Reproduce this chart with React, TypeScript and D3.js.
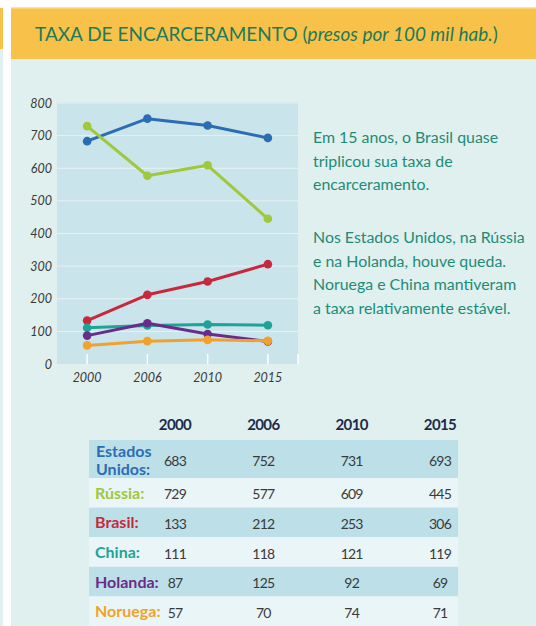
import React from "react";
import * as d3 from "d3";

const years = ["2000", "2006", "2010", "2015"];
const countries = ["Estados Unidos", "Rússia", "Brasil", "China", "Holanda", "Noruega"];
const tableLabels = [["Estados", "Unidos:"], ["Rússia:"], ["Brasil:"], ["China:"], ["Holanda:"], ["Noruega:"]];
const colors = ["#2b6db4", "#9fc83c", "#c8283b", "#1fa396", "#6a2c8b", "#f1a22c"];
const estadosUnidos = [683, 752, 731, 693];
const russia = [729, 577, 609, 445];
const brasil = [133, 212, 253, 306];
const china = [111, 118, 121, 119];
const holanda = [87, 125, 92, 69];
const noruega = [57, 70, 74, 71];
const seriesValues = [estadosUnidos, russia, brasil, china, holanda, noruega];
const yTicks = [0, 100, 200, 300, 400, 500, 600, 700, 800];
const titleMain = "TAXA DE ENCARCERAMENTO ";
const titleSub = "presos por 100 mil hab.";
const noteParagraph1 = ["Em 15 anos, o Brasil quase", "triplicou sua taxa de", "encarceramento."];
const noteParagraph2 = [
  "Nos Estados Unidos, na Rússia",
  "e na Holanda, houve queda.",
  "Noruega e China mantiveram",
  "a taxa relativamente estável.",
];

const W = 536;
const H = 626;
const font = "Lato, 'Open Sans', sans-serif";

export default function App() {
  const plot = { left: 57, right: 298, top: 102, bottom: 364 };
  const x = d3.scalePoint<string>().domain(years).range([plot.left, plot.right]).padding(0.5);
  const y = d3.scaleLinear().domain([0, 800]).range([plot.bottom, plot.top + 1]);
  const line = d3
    .line<number>()
    .x((_, i) => x(years[i]) as number)
    .y((v) => y(v));

  const colX = d3.scalePoint<string>().domain(years).range([175, 440]);
  const rowHeights = [38, 29.6, 29.6, 29.6, 29.6, 29.6];
  const rowTops: number[] = [];
  let acc = 440;
  rowHeights.forEach((h) => {
    rowTops.push(acc);
    acc += h;
  });
  const lineGap = 23.7;

  return (
    <svg
      width={W}
      height={H}
      style={{ position: "absolute", left: 0, top: 0, display: "block" }}
      fontFamily={font}
    >
      <rect x={0} y={0} width={W} height={H} fill="#ffffff" />
      {/* left edge strip */}
      <rect x={0} y={8} width={3} height={41} fill="#f8c24a" />
      <rect x={0} y={49} width={3} height={H - 49} fill="#e2f1f0" />
      {/* panel */}
      <rect x={11} y={58} width={W - 11} height={H - 58} fill="#dff0ef" />
      <rect x={11} y={8} width={W - 11} height={51} fill="#f8c24a" />
      <rect x={11} y={7} width={W - 11} height={1.5} fill="#fbe3a6" />
      <text x={35} y={41} fontSize={19} fill="#1f7a58">
        {titleMain}
        <tspan>(</tspan>
        <tspan fontStyle="italic">{titleSub}</tspan>
        <tspan>)</tspan>
      </text>

      {/* plot area */}
      <rect x={plot.left} y={plot.top} width={plot.right - plot.left} height={plot.bottom - plot.top} fill="#c9e4ea" />
      {yTicks.slice(1).map((t) => (
        <line key={t} x1={plot.left} x2={plot.right} y1={y(t)} y2={y(t)} stroke="#ffffff" strokeOpacity={0.55} strokeWidth={1} />
      ))}
      {years.map((yr) => (
        <line key={yr} x1={x(yr)} x2={x(yr)} y1={plot.bottom - 10} y2={plot.bottom} stroke="#ffffff" strokeWidth={1.5} />
      ))}
      <line x1={plot.right} x2={plot.right} y1={plot.bottom - 10} y2={plot.bottom} stroke="#ffffff" strokeWidth={1.5} />
      {yTicks.map((t) => (
        <text key={t} x={52} y={y(t) + 4.5} fontSize={12.5} fontStyle="italic" fill="#3a3a3a" textAnchor="end">
          {t}
        </text>
      ))}
      {years.map((yr) => (
        <text key={yr} x={x(yr)} y={382} fontSize={12.5} fontStyle="italic" fill="#3a3a3a" textAnchor="middle">
          {yr}
        </text>
      ))}
      {seriesValues.map((vals, si) => (
        <g key={countries[si]}>
          <path d={line(vals) || ""} fill="none" stroke={colors[si]} strokeWidth={3} strokeLinejoin="round" />
          {vals.map((v, i) => (
            <circle key={i} cx={x(years[i])} cy={y(v)} r={4.3} fill={colors[si]} />
          ))}
        </g>
      ))}

      {/* annotation */}
      {noteParagraph1.map((l, i) => (
        <text key={"a" + i} x={313} y={143 + i * lineGap} fontSize={15.9} fill="#1e8b77">
          {l}
        </text>
      ))}
      {noteParagraph2.map((l, i) => (
        <text key={"b" + i} x={313} y={243 + i * lineGap} fontSize={15.9} fill="#1e8b77">
          {l}
        </text>
      ))}

      {/* table */}
      {rowTops.map((t, i) => (
        <rect key={i} x={89} y={t} width={369} height={rowHeights[i]} fill={i % 2 === 0 ? "#bde0e8" : "#eaf5f8"} />
      ))}
      {years.map((yr) => (
        <text key={yr} x={colX(yr)} y={430} fontSize={15} fontWeight={700} fill="#1c2b4a" textAnchor="middle" letterSpacing={-0.6}>
          {yr}
        </text>
      ))}
      {countries.map((c, ri) => {
        const top = rowTops[ri];
        const mid = top + rowHeights[ri] / 2;
        const lbl = tableLabels[ri];
        return (
          <g key={c}>
            {lbl.length === 2 ? (
              <>
                <text x={96} y={top + 17} fontSize={16} fontWeight={700} fill={colors[ri]}>
                  {lbl[0]}
                </text>
                <text x={96} y={top + 35} fontSize={16} fontWeight={700} fill={colors[ri]}>
                  {lbl[1]}
                </text>
              </>
            ) : (
              <text x={95} y={mid + 6} fontSize={16} fontWeight={700} fill={colors[ri]}>
                {lbl[0]}
              </text>
            )}
            {seriesValues[ri].map((v, ci) => (
              <text
                key={ci}
                x={colX(years[ci])}
                y={mid + 6.5}
                fontSize={14}
                fill="#3a3a3a"
                textAnchor="middle"
                letterSpacing={-0.8}
              >
                {v}
              </text>
            ))}
          </g>
        );
      })}
    </svg>
  );
}
